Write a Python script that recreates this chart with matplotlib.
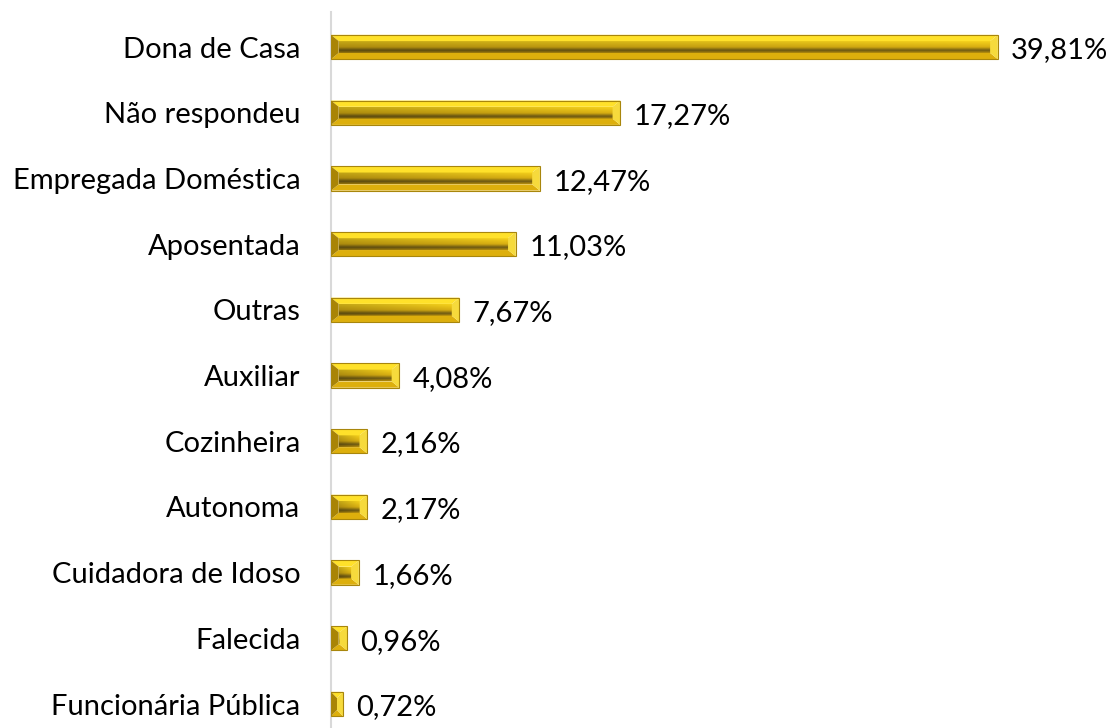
import numpy as np
import matplotlib.pyplot as plt
from matplotlib.patches import Polygon, Rectangle
from matplotlib.colors import to_rgb

plt.rcParams['font.family'] = ['Lato', 'DejaVu Sans']

# Occupation categories and their shares (%)
categorias = ["Dona de Casa", "Não respondeu", "Empregada Doméstica", "Aposentada",
              "Outras", "Auxiliar", "Cozinheira", "Autonoma",
              "Cuidadora de Idoso", "Falecida", "Funcionária Pública"]
valores = [39.81, 17.27, 12.47, 11.03, 7.67, 4.08, 2.16, 2.17, 1.66, 0.96, 0.72]
rotulos = ["39,81%", "17,27%", "12,47%", "11,03%", "7,67%", "4,08%",
           "2,16%", "2,17%", "1,66%", "0,96%", "0,72%"]

fig = plt.figure(figsize=(11.11, 7.28), dpi=100)
ax = fig.add_axes([331 / 1111, 0, 1 - 331 / 1111, 716 / 728])

xmax = (1111 - 331) / 16.75
ax.set_xlim(0, xmax)
ax.set_ylim(10.365, -0.533)

bar_h = 0.37
bev_x = 0.46   # bevel width along x (data units)
bev_y = 0.095  # bevel height along y (data units)

# vertical colour stops of the bar face
stops = [(0.0, "#F6D21C"), (0.5, "#D8AE12"), (0.78, "#6E5A14"), (1.0, "#B8900E")]


def face_image(nv=50, nh=60):
    tv = np.linspace(0, 1, nv)
    pos = [s[0] for s in stops]
    cols = np.array([to_rgb(s[1]) for s in stops])
    prof = np.stack([np.interp(tv, pos, cols[:, c]) for c in range(3)], axis=1)
    shade = 0.8 + 0.2 * np.linspace(0, 1, nh)
    return np.clip(prof[:, None, :] * shade[None, :, None], 0, 1)


FACE = face_image()


def gold_bar(ax, y, w):
    y0, y1 = y - bar_h / 2, y + bar_h / 2
    bx = min(bev_x, w / 2)
    fx0, fx1 = bx, w - bx
    fy0, fy1 = y0 + bev_y, y1 - bev_y
    if fx1 > fx0:
        ax.imshow(FACE, extent=(fx0, fx1, fy1, fy0), aspect='auto',
                  interpolation='bilinear', zorder=2)
    # bevels
    ax.add_patch(Polygon([(0, y0), (w, y0), (w - bx, y0 + bev_y), (bx, y0 + bev_y)],
                         closed=True, fc="#FFE12A", ec='none', zorder=3))
    ax.add_patch(Polygon([(0, y1), (w, y1), (w - bx, y1 - bev_y), (bx, y1 - bev_y)],
                         closed=True, fc="#DDAF0C", ec='none', zorder=3))
    ax.add_patch(Polygon([(0, y0), (bx, y0 + bev_y), (bx, y1 - bev_y), (0, y1)],
                         closed=True, fc="#A98405", ec='none', zorder=3))
    ax.add_patch(Polygon([(w, y0), (w - bx, y0 + bev_y), (w - bx, y1 - bev_y), (w, y1)],
                         closed=True, fc="#F6DA3C", ec='none', zorder=3))
    ax.add_patch(Rectangle((0, y0), w, bar_h, fc='none', ec="#A8860C",
                           lw=0.8, zorder=4))


for i, v in enumerate(valores):
    gold_bar(ax, i, v)
    ax.text(v + 0.8, i + 0.05, rotulos[i], va='center', ha='left',
            fontsize=21, color='#000000')

ax.set_yticks(range(len(categorias)))
ax.set_yticklabels(categorias, fontsize=21)
ax.tick_params(axis='y', length=0, pad=22)
ax.set_xticks([])
for s in ['top', 'right', 'bottom']:
    ax.spines[s].set_visible(False)
ax.spines['left'].set_color('#D9D9D9')
ax.spines['left'].set_linewidth(1.5)

fig.savefig("out.png", dpi=100)
